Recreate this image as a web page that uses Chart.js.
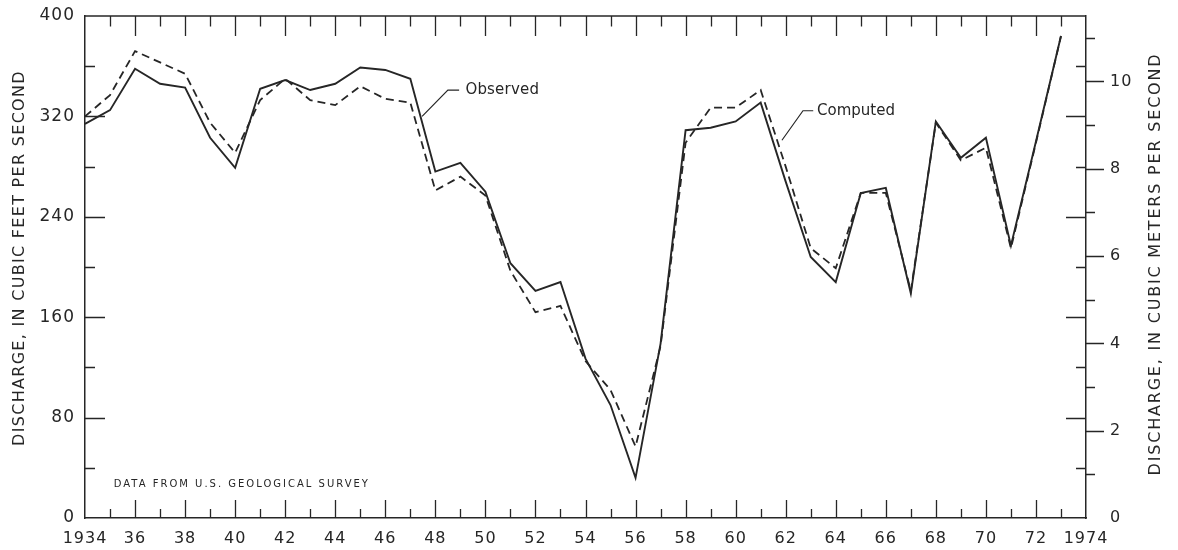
<!DOCTYPE html>
<html>
<head>
<meta charset="utf-8">
<script src="https://cdn.jsdelivr.net/npm/chart.js@4/dist/chart.umd.min.js"></script>
<style>
  html, body { margin: 0; padding: 0; background: #ffffff; }
  #wrap { width: 1178px; height: 550px; }
</style>
</head>
<body>
<div id="wrap"><canvas id="c" width="1178" height="550"></canvas></div>
<script>
// ---------- DATA ----------
const years = [1934, 1935, 1936, 1937, 1938, 1939, 1940, 1941, 1942, 1943,
               1944, 1945, 1946, 1947, 1948, 1949, 1950, 1951, 1952, 1953,
               1954, 1955, 1956, 1957, 1958, 1959, 1960, 1961, 1962, 1963,
               1964, 1965, 1966, 1967, 1968, 1969, 1970, 1971, 1972, 1973];
const observed = [314, 325, 358, 346, 343, 303, 279, 342, 349, 341,
                  346, 359, 357, 350, 276, 283, 260, 203, 181, 188,
                  127, 90, 32, 139, 309, 311, 316, 331, 268, 208,
                  188, 259, 263, 179, 316, 287, 303, 217, 300, 384];
const computed = [320, 337, 372, 363, 354, 315, 291, 333, 350, 333,
                  329, 344, 334, 331, 261, 272, 257, 197, 164, 169,
                  125, 102, 57, 137, 299, 327, 327, 341, 280, 215,
                  199, 259, 259, 181, 315, 285, 295, 215, 299, 384];
const yearTicks = [1934, 1936, 1938, 1940, 1942, 1944, 1946, 1948, 1950, 1952, 1954,
                   1956, 1958, 1960, 1962, 1964, 1966, 1968, 1970, 1972, 1974];
const cfsTicks = [0, 80, 160, 240, 320, 400];
const cmsTicks = [0, 2, 4, 6, 8, 10];
const seriesNames = ["Observed", "Computed"];
const leftTitle = "DISCHARGE, IN CUBIC FEET PER SECOND";
const rightTitle = "DISCHARGE, IN CUBIC METERS PER SECOND";
const sourceNote = "DATA FROM U.S. GEOLOGICAL SURVEY";
const CFS_MAX = 400;
const CMS_MAX = 11.5; // right-axis top as drawn on the original figure

// ---------- STYLE ----------
const INK = "#262626";
const FONT = "'DejaVu Sans', 'Liberation Sans', sans-serif";

const frameAndTicks = {
  id: "frameAndTicks",
  beforeDraw(chart) {
    chart.ctx.letterSpacing = "1px";
  },
  afterDraw(chart) {
    const ctx = chart.ctx;
    const a = chart.chartArea;
    const xs = chart.scales.x, ys = chart.scales.y, y2 = chart.scales.y2;
    ctx.save();
    ctx.strokeStyle = INK;
    ctx.lineWidth = 1.5;
    // frame top
    ctx.beginPath();
    ctx.moveTo(a.left, a.top); ctx.lineTo(a.right, a.top);
    ctx.stroke();
    ctx.lineWidth = 1.3;
    ctx.beginPath();
    // year ticks (inside, top and bottom)
    for (let yr = 1935; yr <= 1973; yr++) {
      const px = Math.round(xs.getPixelForValue(yr)) + 0.5;
      const even = yr % 2 === 0;
      ctx.moveTo(px, a.top); ctx.lineTo(px, a.top + (even ? 20 : 10.5));
      ctx.moveTo(px, a.bottom); ctx.lineTo(px, a.bottom - (even ? 18 : 9));
    }
    // cfs ticks (inside, left and right)
    for (let v = 40; v < CFS_MAX; v += 40) {
      const py = Math.round(ys.getPixelForValue(v)) + 0.5;
      const long = v % 80 === 0;
      ctx.moveTo(a.left, py); ctx.lineTo(a.left + (long ? 20 : 10), py);
      ctx.moveTo(a.right, py); ctx.lineTo(a.right - (long ? 20 : 10), py);
    }
    // m3/s ticks (outside, right)
    for (let v = 1; v <= 11; v++) {
      const py = Math.round(y2.getPixelForValue(v)) + 0.5;
      const long = v % 2 === 0;
      ctx.moveTo(a.right, py); ctx.lineTo(a.right + (long ? 18 : 9), py);
    }
    ctx.stroke();

    // series labels with leader lines (anchored in data coordinates)
    ctx.lineWidth = 1.2;
    const P = (x, y) => [xs.getPixelForValue(x), ys.getPixelForValue(y)];
    const leader = (pts) => {
      ctx.beginPath();
      pts.forEach((p, i) => { const q = P(p[0], p[1]); i ? ctx.lineTo(q[0], q[1]) : ctx.moveTo(q[0], q[1]); });
      ctx.stroke();
    };
    leader([[1947.47, 320], [1948.5, 341], [1948.95, 341]]);
    leader([[1961.85, 301], [1962.69, 324.5], [1963.1, 324.5]]);
    ctx.fillStyle = INK;
    ctx.font = "15px " + FONT;
    ctx.textAlign = "left";
    ctx.textBaseline = "middle";
    ctx.letterSpacing = "0.2px";
    let q = P(1949.2, 341); ctx.fillText(seriesNames[0], q[0], q[1]);
    ctx.letterSpacing = "0px";
    q = P(1963.25, 324.5); ctx.fillText(seriesNames[1], q[0], q[1]);

    // source note
    ctx.font = "10px " + FONT;
    ctx.letterSpacing = "2px";
    q = P(1935.15, 27); ctx.fillText(sourceNote, q[0], q[1]);

    // axis titles (both read bottom-to-top)
    ctx.font = "16px " + FONT;
    ctx.textAlign = "center";
    ctx.save();
    ctx.letterSpacing = "1.3px";
    ctx.translate(20, 258);
    ctx.rotate(-Math.PI / 2);
    ctx.fillText(leftTitle, 0, 0);
    ctx.restore();
    ctx.save();
    ctx.letterSpacing = "1.8px";
    ctx.translate(1156, 264);
    ctx.rotate(-Math.PI / 2);
    ctx.fillText(rightTitle, 0, 0);
    ctx.restore();
    ctx.restore();
  }
};

const toPts = (vals) => years.map((yr, i) => ({ x: yr, y: vals[i] }));
const fitVertical = (w) => (s) => { s.width = w; s.paddingTop = 0; s.paddingBottom = 0; };

new Chart(document.getElementById("c"), {
  type: "line",
  data: {
    datasets: [
      { label: seriesNames[0], data: toPts(observed), borderColor: INK, borderWidth: 1.9,
        pointRadius: 0, tension: 0, fill: false },
      { label: seriesNames[1], data: toPts(computed), borderColor: INK, borderWidth: 1.8,
        borderDash: [8, 5], pointRadius: 0, tension: 0, fill: false }
    ]
  },
  options: {
    responsive: false,
    animation: false,
    layout: { padding: { top: 16, left: 0, right: 0, bottom: 0 } },
    plugins: { legend: { display: false }, tooltip: { enabled: false }, title: { display: false } },
    scales: {
      x: {
        type: "linear", position: "bottom", min: 1934, max: 1974,
        afterBuildTicks: (s) => { s.ticks = yearTicks.map(v => ({ value: v })); },
        afterFit: (s) => { s.height = 32; s.paddingLeft = 0; s.paddingRight = 0; },
        grid: { display: false, drawTicks: false },
        border: { display: true, color: INK, width: 1.5 },
        ticks: {
          autoSkip: false, maxRotation: 0, padding: 11, color: INK,
          font: { family: FONT, size: 16 },
          callback: (v) => (v === 1934 || v === 1974) ? String(v) : String(v % 100).padStart(2, "0")
        }
      },
      y: {
        type: "linear", position: "left", min: 0, max: CFS_MAX,
        afterBuildTicks: (s) => { s.ticks = cfsTicks.map(v => ({ value: v })); },
        afterFit: fitVertical(85),
        grid: { display: false, drawTicks: false },
        border: { display: true, color: INK, width: 1.5 },
        ticks: { padding: 10, color: INK, font: { family: FONT, size: 17 } }
      },
      y2: {
        type: "linear", position: "right", min: 0, max: CMS_MAX,
        afterBuildTicks: (s) => { s.ticks = cmsTicks.map(v => ({ value: v })); },
        afterFit: fitVertical(92),
        grid: { display: false, drawTicks: false },
        border: { display: true, color: INK, width: 1.5 },
        ticks: { padding: 24, color: INK, font: { family: FONT, size: 16 } }
      }
    }
  },
  plugins: [frameAndTicks]
});
</script>
</body>
</html>
